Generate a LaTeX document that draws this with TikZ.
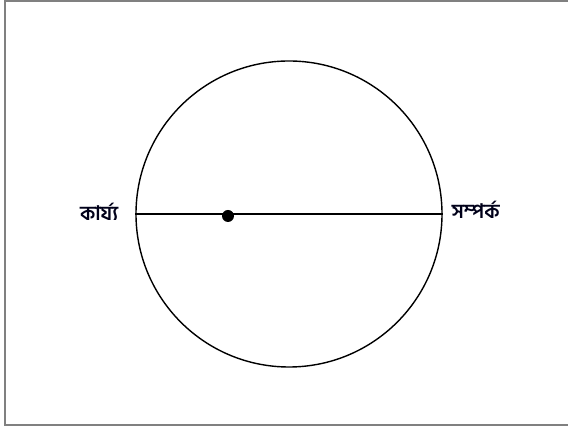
\documentclass[tikz,border=0pt]{standalone}
\usepackage{fontspec}
\newfontfamily\bnfont[Script=Bengali]{Hind Siliguri}
\begin{document}
\begin{tikzpicture}[x=1pt,y=1pt,
  lbl/.style={font=\bnfont\bfseries\fontsize{20}{22}\selectfont, text=black!90!blue, inner sep=0pt},
  ring/.style={draw=black, line width=1.4pt}]
\useasboundingbox (0,0) rectangle (568,430);
\draw[gray, line width=2pt] (5,4.5) rectangle (572,428.5);
\node[ring, circle, minimum size=306pt, inner sep=0pt] (c) at (289,216) {};
\draw[ring] (c.west) -- (c.east);
\node[circle, fill=black, minimum size=12pt, inner sep=0pt] (dot) at (228,214) {};
\node[lbl, anchor=east] (l) at ([xshift=-17pt,yshift=2pt]c.west) {কার্য্য};
\node[lbl, anchor=west] (r) at ([xshift=9pt,yshift=4pt]c.east) {সম্পর্ক};
\end{tikzpicture}
\end{document}
